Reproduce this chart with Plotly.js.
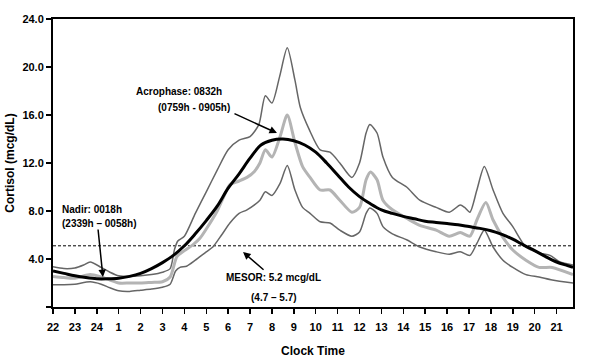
<!DOCTYPE html>
<html>
<head>
<meta charset="utf-8">
<script src="https://cdn.plot.ly/plotly-3.0.1.min.js"></script>
<style>html,body{margin:0;padding:0;background:#fff;}#chart{width:594px;height:363px;}</style>
</head>
<body>
<div id="chart"></div>
<script>
// x = hours elapsed since 22:00
const tickHours = [0,1,2,3,4,5,6,7,8,9,10,11,12,13,14,15,16,17,18,19,20,21,22,23];
const tickLabels = ["22","23","24","1","2","3","4","5","6","7","8","9","10","11","12","13","14","15","16","17","18","19","20","21"];
const yTickVals = [0,4,8,12,16,20,24];
const yTickText = ["","4.0","8.0","12.0","16.0","20.0","24.0"];

// Cosinor fit (black)
const fitX = [0,0.5,1,1.5,2,2.5,3,3.5,4,4.5,5,5.5,6,6.5,7,7.5,8,8.5,9,9.5,10,10.5,11,11.5,12,12.5,13,13.5,14,14.5,15,15.5,16,16.5,17,17.5,18,18.5,19,19.5,20,20.5,21,21.5,22,22.5,23,23.5,23.75];
const fitY = [3.0,2.8,2.6,2.45,2.35,2.35,2.4,2.55,2.8,3.2,3.7,4.3,5.1,6.1,7.2,8.4,9.9,11.1,12.4,13.5,13.9,14.0,13.85,13.5,12.9,12.0,11.0,10.0,9.2,8.6,8.1,7.8,7.55,7.35,7.15,7.05,6.95,6.85,6.7,6.55,6.35,6.05,5.65,5.15,4.7,4.2,3.75,3.45,3.3];

// Mean (light gray)
const meanX = [0,0.5,1,1.7,2.2,2.6,3,3.5,4,4.5,5,5.35,5.66,6,6.4,6.7,7,7.5,7.8,8.08,8.5,8.86,9.2,9.45,9.7,10,10.37,10.7,11.05,11.4,11.74,12.2,12.65,13.1,13.65,14,14.3,14.5,14.8,15.07,15.5,16.15,16.75,17.5,18.1,18.6,19.04,19.36,19.77,20.1,20.55,21,21.6,22.2,22.8,23.75];
const meanY = [2.55,2.45,2.4,2.7,2.5,2.25,2.0,2.0,2.0,2.05,2.1,2.5,4.2,4.7,5.2,5.7,6.5,8.0,9.2,10.2,10.5,10.8,11.3,12.0,13.1,12.5,14.2,16.0,13.7,11.7,10.8,9.75,9.75,8.9,7.9,8.3,10.6,11.25,10.6,8.9,8.1,7.4,6.8,6.4,5.9,6.2,5.9,7.25,8.7,7.25,5.8,4.75,3.9,3.3,3.3,2.7];

// Upper band (dark gray)
const upperX = [0,0.5,1,1.4,1.7,2.2,2.6,3,3.5,4,4.5,5,5.35,5.55,5.7,6,6.5,7,7.5,8,8.5,9,9.4,9.7,10,10.35,10.7,11.05,11.3,11.7,12.2,12.65,13.1,13.65,14,14.3,14.47,14.8,15.07,15.5,16.15,16.75,17.5,18.1,18.6,18.8,19.04,19.36,19.7,20.1,20.55,21,21.6,22.2,22.7,23.15,23.75];
const upperY = [3.35,3.2,3.25,3.5,3.75,3.3,2.9,2.6,2.55,2.6,2.7,2.9,3.2,4.8,5.5,5.9,7.8,9.6,11.4,13.1,13.9,14.2,15.2,17.6,17.0,19.2,21.6,18.9,16.6,14.8,13.1,12.9,12.0,10.8,12.0,14.5,15.2,14.5,12.5,10.8,10.0,8.9,8.3,7.9,8.5,8.3,7.9,9.75,11.7,9.75,7.8,6.7,5.0,4.5,4.3,3.75,3.5];

// Lower band (dark gray)
const lowerX = [0,0.5,1,1.7,2.2,2.6,3,3.5,4,4.5,5,5.35,5.6,5.8,6.1,6.5,7,7.3,7.7,8.08,8.5,8.86,9.45,9.7,10,10.37,10.7,11.05,11.4,11.74,12.2,12.65,13.1,13.65,14,14.3,14.47,14.8,15.07,15.5,16.15,16.75,17.5,18.1,18.6,19.04,19.36,19.7,20.1,20.55,21,21.6,22.2,22.8,23.75];
const lowerY = [1.85,1.85,1.9,2.1,1.9,1.6,1.35,1.3,1.4,1.5,1.65,1.9,3.0,3.3,3.4,3.9,4.6,5.0,6.0,7.0,7.8,8.1,8.9,9.6,9.3,10.3,11.8,9.75,8.3,7.8,7.1,7.0,6.4,5.9,6.25,7.8,8.25,7.8,6.7,6.1,5.6,5.0,4.6,4.4,4.6,4.3,5.3,6.4,5.0,3.9,3.3,2.7,2.5,2.25,2.0];

// MESOR reference line
const mesorX = [0, 23.75];
const mesorY = [5.1, 5.1];

const FONT = "Arial, 'Liberation Sans', sans-serif";
const sm = 0.7;

const traces = [
  {x: mesorX, y: mesorY, mode: "lines", line: {color: "#000", width: 1, dash: "3px,2px"}, hoverinfo: "skip"},
  {x: upperX, y: upperY, mode: "lines", line: {color: "#666", width: 1.5, shape: "spline", smoothing: sm}},
  {x: lowerX, y: lowerY, mode: "lines", line: {color: "#666", width: 1.5, shape: "spline", smoothing: sm}},
  {x: meanX, y: meanY, mode: "lines", line: {color: "#b4b4b4", width: 3, shape: "spline", smoothing: sm}},
  {x: fitX, y: fitY, mode: "lines", line: {color: "#000", width: 3, shape: "spline", smoothing: 1}}
];

const annFont = {family: FONT, size: 10, color: "#000", weight: "bold"};
const layout = {
  width: 594, height: 363,
  margin: {l: 53, r: 21, t: 19, b: 56},
  paper_bgcolor: "#fff", plot_bgcolor: "#fff",
  showlegend: false,
  font: {family: FONT, color: "#000"},
  xaxis: {
    range: [0, 23.75], tickvals: tickHours, ticktext: tickLabels,
    showgrid: false, zeroline: false, showline: true, linecolor: "#000", linewidth: 2, mirror: true,
    ticks: "outside", ticklen: 5, tickwidth: 1.5, tickcolor: "#000",
    tickfont: {family: FONT, size: 11, weight: "bold"}, ticklabelstandoff: 4,
    title: {text: "Clock Time", font: {family: FONT, size: 12, weight: "bold"}, standoff: 14}
  },
  yaxis: {
    range: [0, 24], tickvals: yTickVals, ticktext: yTickText,
    showgrid: false, zeroline: false, showline: true, linecolor: "#000", linewidth: 2, mirror: true,
    ticks: "outside", ticklen: 5, tickwidth: 1.5, tickcolor: "#000",
    tickfont: {family: FONT, size: 11, weight: "bold"},
    title: {text: "Cortisol (mcg/dL)", font: {family: FONT, size: 12, weight: "bold"}, standoff: 5}
  },
  annotations: [
    {x: 5.75, y: 18.0, text: "<b>Acrophase: 0832h</b>", showarrow: false, font: annFont},
    {x: 6.45, y: 16.6, text: "<b>(0759h - 0905h)</b>", showarrow: false, font: annFont},
    {x: 10.23, y: 14.5, ax: -44, ay: -20, text: "", showarrow: true, arrowhead: 2, arrowsize: 1, arrowwidth: 1.5, arrowcolor: "#000"},
    {x: 0.32, y: 8.15, text: "<b>Nadir: 0018h</b>", showarrow: false, xanchor: "left", font: annFont},
    {x: 0.32, y: 6.95, text: "<b>(2339h \u2013 0058h)</b>", showarrow: false, xanchor: "left", font: annFont},
    {x: 2.28, y: 2.5, ax: -5, ay: -49, text: "", showarrow: true, arrowhead: 2, arrowsize: 1, arrowwidth: 1.5, arrowcolor: "#000"},
    {x: 10.07, y: 2.5, text: "<b>MESOR: 5.2 mcg/dL</b>", showarrow: false, font: annFont},
    {x: 10.1, y: 0.83, text: "<b>(4.7 \u2013 5.7)</b>", showarrow: false, font: annFont},
    {x: 8.68, y: 4.58, ax: 22, ay: 19, text: "", showarrow: true, arrowhead: 2, arrowsize: 1, arrowwidth: 1.5, arrowcolor: "#000"}
  ]
};

Plotly.newPlot("chart", traces, layout, {displayModeBar: false, staticPlot: true});
</script>
</body>
</html>
